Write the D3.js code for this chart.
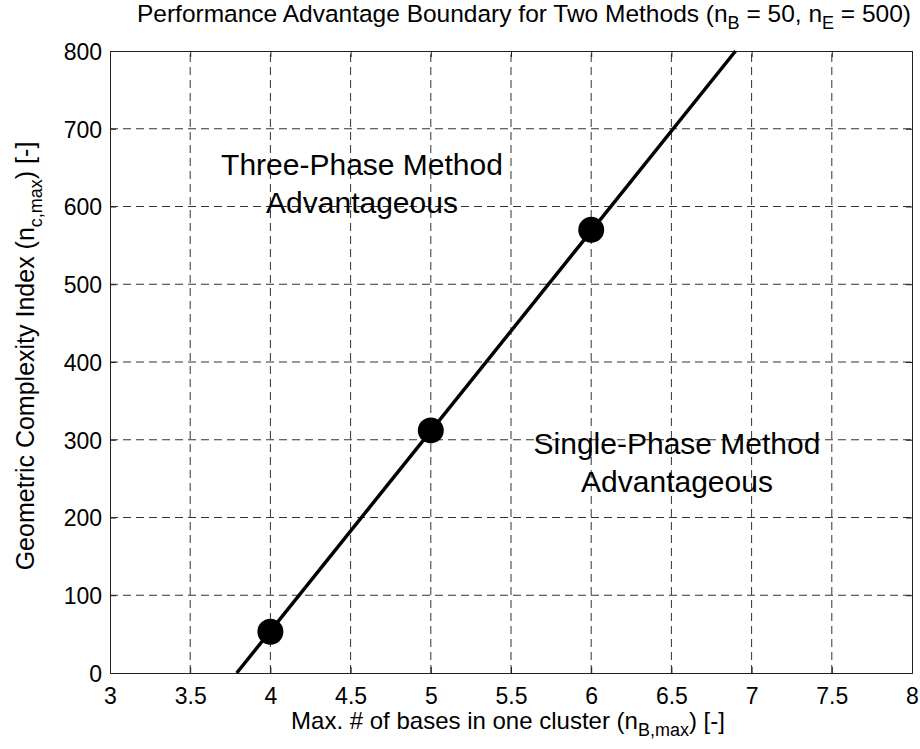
<!DOCTYPE html>
<html lang="en">
<head>
<meta charset="utf-8">
<title>Performance Advantage Boundary</title>
<script src="https://cdnjs.cloudflare.com/ajax/libs/d3/7.8.5/d3.min.js"></script>
<style>
  body { margin: 0; background: #ffffff; }
  text { font-family: "Liberation Sans", Arial, Helvetica, sans-serif; fill: #000; }
  .grid line { stroke: #333; stroke-width: 1; stroke-dasharray: 8,5; }
</style>
</head>
<body>
<svg id="chart" width="920" height="749"></svg>
<script>
// data
const xTicks = [3, 3.5, 4, 4.5, 5, 5.5, 6, 6.5, 7, 7.5, 8];
const yTicks = [0, 100, 200, 300, 400, 500, 600, 700, 800];
const pointX = [4, 5, 6];
const pointY = [53, 312, 570];
const boundaryX = [3.79, 6.9];
const boundaryY = [0, 800];
const regionThree = ["Three-Phase Method", "Advantageous"];
const regionSingle = ["Single-Phase Method", "Advantageous"];

const margin = { left: 110, right: 8, top: 51, bottom: 76 };
const W = 920, H = 749;

const svg = d3.select("#chart");

const x = d3.scaleLinear().domain([3, 8]).range([margin.left, W - margin.right]);
const y = d3.scaleLinear().domain([0, 800]).range([H - margin.bottom, margin.top]);

// grid
const grid = svg.append("g").attr("class", "grid");
grid.selectAll(".vg")
  .data(xTicks.slice(1, -1))
  .enter().append("line")
  .attr("x1", d => x(d)).attr("x2", d => x(d))
  .attr("y1", y(0)).attr("y2", y(800));
grid.selectAll(".hg")
  .data(yTicks.slice(1, -1))
  .enter().append("line")
  .attr("y1", d => y(d)).attr("y2", d => y(d))
  .attr("x1", x(3)).attr("x2", x(8));

// axes (ticks inside, box on)
const xAxis = svg.append("g")
  .attr("transform", `translate(0,${y(0)})`)
  .call(d3.axisBottom(x).tickValues(xTicks).tickSize(-6).tickPadding(15).tickFormat(d3.format("")));
const yAxis = svg.append("g")
  .attr("transform", `translate(${x(3)},0)`)
  .call(d3.axisLeft(y).tickValues(yTicks).tickSize(-6).tickPadding(8));
svg.append("g")
  .attr("transform", `translate(0,${y(800)})`)
  .call(d3.axisTop(x).tickValues(xTicks).tickSize(-6).tickFormat(""));
svg.append("g")
  .attr("transform", `translate(${x(8)},0)`)
  .call(d3.axisRight(y).tickValues(yTicks).tickSize(-6).tickFormat(""));

svg.selectAll(".domain").attr("stroke", "#222").attr("stroke-width", 1);
svg.selectAll(".tick line").attr("stroke", "#222");
xAxis.selectAll("text").attr("font-size", 23).attr("fill", "#000");
yAxis.selectAll("text").attr("font-size", 23).attr("fill", "#000").attr("dy", "0.36em");

// boundary line
const line = d3.line().x(d => x(d[0])).y(d => y(d[1]));
svg.append("path")
  .datum(d3.zip(boundaryX, boundaryY))
  .attr("d", line)
  .attr("fill", "none")
  .attr("stroke", "#000")
  .attr("stroke-width", 3.5);

// markers
svg.selectAll(".pt")
  .data(d3.zip(pointX, pointY))
  .enter().append("circle")
  .attr("cx", d => x(d[0]))
  .attr("cy", d => y(d[1]))
  .attr("r", 13)
  .attr("fill", "#000");

// region labels
function region(lines, cx, by) {
  svg.append("g").selectAll("text")
    .data(lines)
    .enter().append("text")
    .attr("x", cx)
    .attr("y", (d, i) => by + i * 38)
    .attr("text-anchor", "middle")
    .attr("font-size", 30)
    .text(d => d);
}
region(regionThree, 362, 175);
region(regionSingle, 677, 454);

// title
const title = svg.append("text")
  .attr("x", 524).attr("y", 22)
  .attr("text-anchor", "middle")
  .attr("font-size", 24.5);
title.append("tspan").text("Performance Advantage Boundary for Two Methods (n");
title.append("tspan").attr("font-size", 18).attr("dy", 7).text("B");
title.append("tspan").attr("dy", -7).text(" = 50, n");
title.append("tspan").attr("font-size", 18).attr("dy", 7).text("E");
title.append("tspan").attr("dy", -7).text(" = 500)");

// x label
const xl = svg.append("text")
  .attr("x", 508).attr("y", 729)
  .attr("text-anchor", "middle")
  .attr("font-size", 24);
xl.append("tspan").text("Max. # of bases in one cluster (n");
xl.append("tspan").attr("font-size", 18).attr("dy", 7).text("B,max");
xl.append("tspan").attr("dy", -7).text(") [-]");

// y label
const yl = svg.append("text")
  .attr("transform", "translate(34,356) rotate(-90)")
  .attr("text-anchor", "middle")
  .attr("font-size", 25);
yl.append("tspan").text("Geometric Complexity Index (n");
yl.append("tspan").attr("font-size", 18).attr("dy", 8).text("c,max");
yl.append("tspan").attr("dy", -8).text(") [-]");
</script>
</body>
</html>
